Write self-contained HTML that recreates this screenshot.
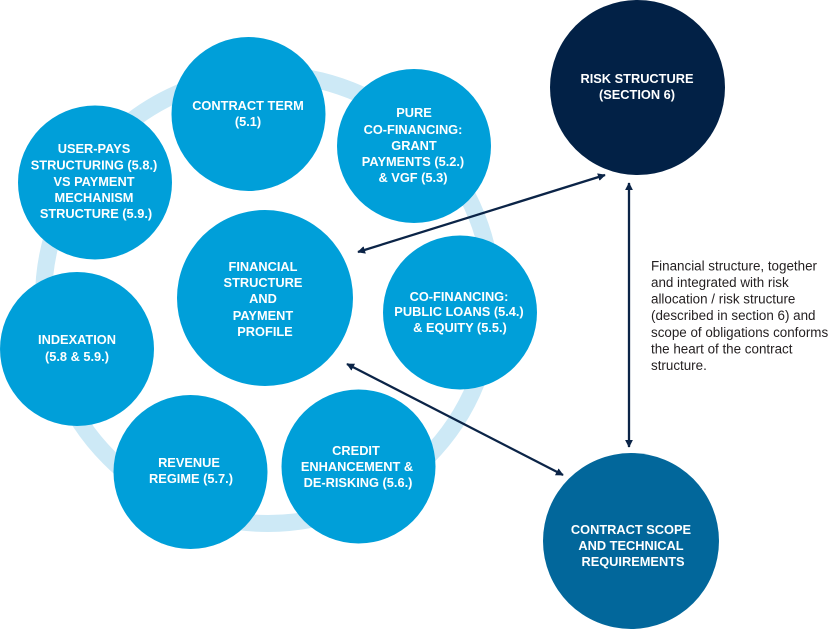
<!DOCTYPE html>
<html>
<head>
<meta charset="utf-8">
<style>
html,body{margin:0;padding:0;background:#fff;}
svg{display:block;}
.w{font-family:"Liberation Sans",Arial,sans-serif;font-weight:bold;font-size:12.8px;fill:#fff;text-anchor:middle;}
.t{font-family:"Liberation Sans",Arial,sans-serif;font-size:13.4px;fill:#231f20;}
</style>
</head>
<body>
<svg width="836" height="629" viewBox="0 0 836 629" xmlns="http://www.w3.org/2000/svg">
<defs>
<marker id="ah" viewBox="0 0 10 10" refX="9" refY="5" markerWidth="3.4" markerHeight="3.4" orient="auto-start-reverse" markerUnits="strokeWidth">
<path d="M0,0 L10,5 L0,10 z" fill="#0b2447"/>
</marker>
</defs>
<!-- ring -->
<circle cx="268" cy="299" r="224.5" fill="none" stroke="#cde9f6" stroke-width="17"/>

<!-- circles -->
<g fill="#009fd9">
<circle cx="248.5" cy="114" r="77"/>
<circle cx="95" cy="182.5" r="77"/>
<circle cx="414" cy="146" r="77"/>
<circle cx="265" cy="298" r="88"/>
<circle cx="460" cy="312.5" r="77"/>
<circle cx="77" cy="349" r="77"/>
<circle cx="190.5" cy="472" r="77"/>
<circle cx="358.5" cy="466.5" r="77"/>
</g>
<circle cx="637.5" cy="87.5" r="87.5" fill="#022146"/>
<circle cx="631" cy="541" r="88" fill="#02679b"/>

<!-- arrows -->
<g stroke="#0b2447" stroke-width="2.3" fill="none" marker-start="url(#ah)" marker-end="url(#ah)">
<line x1="358" y1="252" x2="605" y2="175"/>
<line x1="347" y1="364" x2="563" y2="475"/>
<line x1="629" y1="183" x2="629" y2="447"/>
</g>

<!-- labels -->
<text class="w" x="248" y="110">CONTRACT TERM</text>
<text class="w" x="248" y="126">(5.1)</text>

<text class="w" x="94" y="153">USER-PAYS</text>
<text class="w" x="94" y="169.5">STRUCTURING (5.8.)</text>
<text class="w" x="94" y="186">VS PAYMENT</text>
<text class="w" x="94" y="202">MECHANISM</text>
<text class="w" x="96" y="218">STRUCTURE (5.9.)</text>

<text class="w" x="414" y="117">PURE</text>
<text class="w" x="413" y="134">CO-FINANCING:</text>
<text class="w" x="414" y="150">GRANT</text>
<text class="w" x="413" y="166">PAYMENTS (5.2.)</text>
<text class="w" x="413" y="182">&amp; VGF (5.3)</text>

<text class="w" x="263" y="271">FINANCIAL</text>
<text class="w" x="263" y="287">STRUCTURE</text>
<text class="w" x="263" y="303">AND</text>
<text class="w" x="263" y="320">PAYMENT</text>
<text class="w" x="265" y="336">PROFILE</text>

<text class="w" x="459" y="301">CO-FINANCING:</text>
<text class="w" x="459" y="316">PUBLIC LOANS (5.4.)</text>
<text class="w" x="460" y="332">&amp; EQUITY (5.5.)</text>

<text class="w" x="77" y="344">INDEXATION</text>
<text class="w" x="77" y="361">(5.8 &amp; 5.9.)</text>

<text class="w" x="189" y="467">REVENUE</text>
<text class="w" x="191" y="483">REGIME (5.7.)</text>

<text class="w" x="356" y="455">CREDIT</text>
<text class="w" x="357" y="471">ENHANCEMENT &amp;</text>
<text class="w" x="358" y="487">DE-RISKING (5.6.)</text>

<text class="w" x="637" y="83">RISK STRUCTURE</text>
<text class="w" x="637" y="99">(SECTION 6)</text>

<text class="w" x="631" y="534">CONTRACT SCOPE</text>
<text class="w" x="631" y="550">AND TECHNICAL</text>
<text class="w" x="633" y="566">REQUIREMENTS</text>

<text class="t" x="651" y="270.5">Financial structure, together</text>
<text class="t" x="651" y="287">and integrated with risk</text>
<text class="t" x="651" y="303.5">allocation / risk structure</text>
<text class="t" x="651" y="320">(described in section 6) and</text>
<text class="t" x="651" y="337">scope of obligations conforms</text>
<text class="t" x="651" y="353.5">the heart of the contract</text>
<text class="t" x="651" y="370">structure.</text>
</svg>
</body>
</html>
